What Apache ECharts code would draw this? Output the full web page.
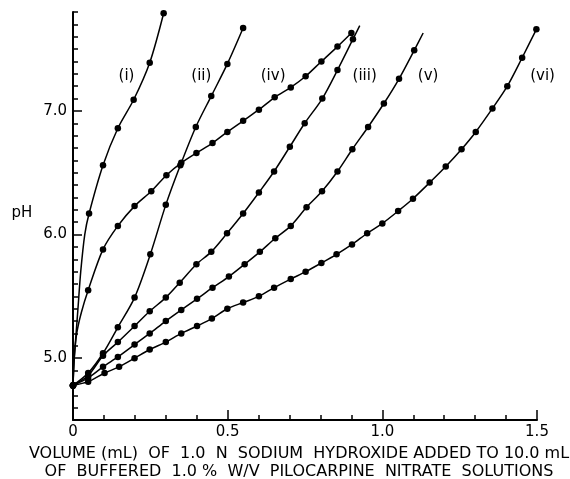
<!DOCTYPE html>
<html>
<head>
<meta charset="utf-8">
<script src="https://cdn.jsdelivr.net/npm/echarts@6/dist/echarts.min.js"></script>
<style>
  html, body { margin: 0; padding: 0; background: #fff; }
  #chart { width: 570px; height: 479px; }
</style>
</head>
<body>
<div id="chart"></div>
<script>
  // titration curves, volume of NaOH (mL) vs pH
  const volI = [0, 0.052, 0.097, 0.145, 0.196, 0.248, 0.293]
  const phI = [4.78, 6.17, 6.56, 6.86, 7.09, 7.39, 7.79]
  // the drawn line of (i) rises almost straight up off the axis (no dots there)
  const traceVolI = [0.004, 0.01, 0.016, 0.025, 0.038]
  const tracePhI = [5.0, 5.2, 5.4, 5.7, 6.0]

  const volII = [0, 0.049, 0.097, 0.145, 0.199, 0.25, 0.30, 0.347, 0.397, 0.447, 0.499, 0.55]
  const phII = [4.78, 4.88, 5.04, 5.25, 5.49, 5.84, 6.24, 6.56, 6.87, 7.12, 7.38, 7.67]

  const volIII = [0, 0.049, 0.097, 0.145, 0.199, 0.248, 0.30, 0.345, 0.399, 0.447, 0.498, 0.55, 0.601, 0.65, 0.701, 0.749, 0.806, 0.855, 0.905]
  const phIII = [4.78, 4.86, 5.02, 5.13, 5.26, 5.38, 5.49, 5.61, 5.76, 5.86, 6.01, 6.17, 6.34, 6.51, 6.71, 6.90, 7.10, 7.33, 7.58]
  const traceVolIII = [0.927]
  const tracePhIII = [7.69]

  const volIV = [0, 0.049, 0.097, 0.145, 0.199, 0.253, 0.302, 0.35, 0.399, 0.451, 0.499, 0.55, 0.601, 0.652, 0.704, 0.752, 0.803, 0.855, 0.90]
  const phIV = [4.78, 5.55, 5.88, 6.07, 6.23, 6.35, 6.48, 6.58, 6.66, 6.74, 6.83, 6.92, 7.01, 7.11, 7.19, 7.28, 7.40, 7.52, 7.63]
  const traceVolIV = [0.004, 0.012, 0.027]
  const tracePhIV = [5.0, 5.2, 5.37]

  const volV = [0, 0.049, 0.097, 0.145, 0.199, 0.248, 0.30, 0.35, 0.401, 0.451, 0.504, 0.555, 0.604, 0.654, 0.704, 0.755, 0.805, 0.855, 0.903, 0.954, 1.005, 1.054, 1.103]
  const phV = [4.78, 4.84, 4.93, 5.01, 5.11, 5.20, 5.30, 5.39, 5.48, 5.57, 5.66, 5.76, 5.86, 5.97, 6.07, 6.22, 6.35, 6.51, 6.69, 6.87, 7.06, 7.26, 7.49]
  const traceVolV = [1.132]
  const tracePhV = [7.63]

  const volVI = [0, 0.049, 0.102, 0.149, 0.199, 0.248, 0.30, 0.35, 0.401, 0.449, 0.499, 0.55, 0.601, 0.65, 0.704, 0.752, 0.803, 0.852, 0.902, 0.951, 1.0, 1.051, 1.099, 1.153, 1.205, 1.256, 1.302, 1.356, 1.404, 1.452, 1.498]
  const phVI = [4.78, 4.81, 4.88, 4.93, 5.00, 5.07, 5.13, 5.20, 5.26, 5.32, 5.40, 5.45, 5.50, 5.57, 5.64, 5.70, 5.77, 5.84, 5.92, 6.01, 6.09, 6.19, 6.29, 6.42, 6.55, 6.69, 6.83, 7.02, 7.20, 7.43, 7.66]

  const curveNames = ['(i)', '(ii)', '(iii)', '(iv)', '(v)', '(vi)']
  // where each curve's tag sits, in data units
  const tagVol = [0.173, 0.415, 0.943, 0.647, 1.148, 1.518]
  const tagPh = [7.28, 7.28, 7.28, 7.28, 7.28, 7.28]

  const volumeLabels = [0, 0.5, 1.0, 1.5]
  const volumeMajor = [0.5, 1.0, 1.5]
  const phLabels = [5, 6, 7]

  const xTitle = 'VOLUME (mL)  OF  1.0  N  SODIUM  HYDROXIDE ADDED TO 10.0 mL\nOF  BUFFERED  1.0 %  W/V  PILOCARPINE  NITRATE  SOLUTIONS'

  const font = '"DejaVu Sans", sans-serif'
  const black = '#000'

  const buildData = (xs, ys, txs = [], tys = []) => {
    const marked = xs.map((x, i) => ({ value: [x, ys[i]] }))
    const trace = txs.map((x, i) => ({ value: [x, tys[i]], symbol: 'none' }))
    return [...marked, ...trace].sort((a, b) => a.value[0] - b.value[0])
  }

  const curves = [
    buildData(volI, phI, traceVolI, tracePhI),
    buildData(volII, phII),
    buildData(volIII, phIII, traceVolIII, tracePhIII),
    buildData(volIV, phIV, traceVolIV, tracePhIV),
    buildData(volV, phV, traceVolV, tracePhV),
    buildData(volVI, phVI)
  ]

  const chart = echarts.init(document.getElementById('chart'))

  const tickLine = { color: black, width: 1.5 }

  const option = {
    animation: false,
    backgroundColor: '#fff',
    grid: { left: 73, right: 33, top: 12, bottom: 59, containLabel: false, outerBoundsMode: 'none' },
    xAxis: [
      {
        type: 'value',
        min: 0,
        max: 1.5,
        interval: 0.1,
        axisLine: { lineStyle: { color: black, width: 2 } },
        axisTick: { inside: true, length: 5, lineStyle: tickLine },
        axisLabel: {
          customValues: volumeLabels,
          formatter: v => (v === 0 ? '0' : v.toFixed(1)),
          color: black,
          fontSize: 15,
          fontFamily: font,
          margin: 5
        },
        splitLine: { show: false },
        name: xTitle,
        nameLocation: 'middle',
        nameGap: 24,
        nameTextStyle: { color: black, fontSize: 16, fontFamily: font, lineHeight: 18, padding: [0, 12, 0, 0] }
      },
      {
        type: 'value',
        min: 0,
        max: 1.5,
        position: 'bottom',
        axisLine: { show: false },
        axisTick: { inside: true, length: 10, customValues: volumeMajor, lineStyle: tickLine },
        axisLabel: { show: false },
        splitLine: { show: false }
      }
    ],
    yAxis: [
      {
        type: 'value',
        min: 4.5,
        max: 7.8,
        interval: 0.1,
        axisLine: { show: true, lineStyle: { color: black, width: 2 } },
        axisTick: { show: true, inside: true, length: 5, lineStyle: tickLine },
        axisLabel: {
          customValues: phLabels,
          formatter: v => v.toFixed(1),
          color: black,
          fontSize: 15,
          fontFamily: font,
          margin: 6
        },
        splitLine: { show: false }
      },
      {
        type: 'value',
        min: 4.5,
        max: 7.8,
        position: 'left',
        axisLine: { show: false },
        axisTick: { show: true, inside: true, length: 9, customValues: phLabels, lineStyle: tickLine },
        axisLabel: { show: false },
        splitLine: { show: false }
      }
    ],
    series: curves.map((data, i) => ({
      name: curveNames[i],
      type: 'line',
      data: data,
      smooth: 0.3,
      symbol: 'circle',
      symbolSize: 6.5,
      showAllSymbol: true,
      clip: false,
      lineStyle: { color: black, width: 1.5 },
      itemStyle: { color: black }
    }))
  }

  chart.setOption(option)

  // curve tags and the pH title, placed through the axes
  const tags = curveNames.map((name, i) => {
    const p = chart.convertToPixel({ gridIndex: 0 }, [tagVol[i], tagPh[i]])
    return {
      type: 'text',
      x: p[0],
      y: p[1],
      style: { text: name, align: 'center', verticalAlign: 'middle', font: '15px ' + font, fill: black }
    }
  })

  chart.setOption({
    graphic: [
      ...tags,
      {
        type: 'text',
        x: 22,
        y: 213,
        style: { text: 'pH', align: 'center', verticalAlign: 'middle', font: '15px ' + font, fill: black }
      }
    ]
  })

  window.addEventListener('resize', () => chart.resize())
</script>
</body>
</html>
